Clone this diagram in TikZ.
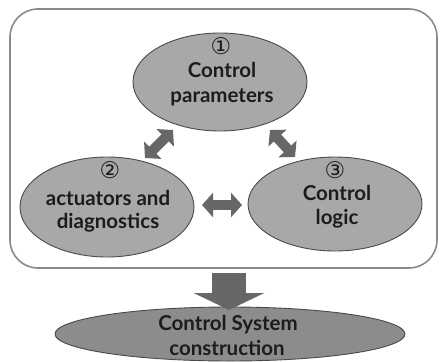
\documentclass[tikz,border=0pt]{standalone}
\usepackage{fontspec}
\setmainfont{Lato}
\newfontfamily\symfont{DejaVu Sans}
\usetikzlibrary{arrows.meta,shapes.geometric}
\definecolor{ellfill}{HTML}{A8A8A8}
\definecolor{ellfilldark}{HTML}{8C8C8C}
\definecolor{ellline}{HTML}{4A4A4A}
\definecolor{arrowgray}{HTML}{676767}
\definecolor{framegray}{HTML}{8A8A8A}
\definecolor{txt}{HTML}{1C1C1C}
\begin{document}
\begin{tikzpicture}[x=1pt,y=-1pt,
  blob/.style={ellipse,draw=ellline,line width=0.9pt,fill=ellfill,inner sep=0pt},
  lbl/.style={font=\bfseries\fontsize{20.5}{24}\selectfont,text=txt,anchor=base,inner sep=0pt},
  num/.style={font=\symfont\fontsize{23}{23}\selectfont,text=txt,inner sep=0pt},
  dbl/.style={draw=arrowgray,line width=10pt,{Triangle[width=24pt,length=11pt]}-{Triangle[width=24pt,length=11pt]}},
  bigarrow/.style={draw=arrowgray,line width=34pt,-{Triangle[width=70pt,length=17pt]}}]
\useasboundingbox (0,0) rectangle (443,361);
\fill[white] (0,0) rectangle (443,361);
\draw[framegray,line width=1.6pt,rounded corners=28pt] (10,9) rectangle (437,268);
% ellipses
\node[blob,minimum width=174pt,minimum height=98pt] (top) at (220,82) {};
\node[blob,minimum width=174pt,minimum height=100pt] (left) at (107,207) {};
\node[blob,minimum width=174pt,minimum height=94pt] (right) at (335,204) {};
\node[blob,fill=ellfilldark,minimum width=350pt,minimum height=54pt] (bottom) at (230,334) {};
% labels
\node[num] (n1) at (221,46) {①};
\node[lbl] (t1a) at (222,77) {Control};
\node[lbl] (t1b) at (222,102) {parameters};
\node[num] (n2) at (110,170) {②};
\node[lbl] (t2a) at (108,205) {actuators and};
\node[lbl] (t2b) at (108,228) {diagnostics};
\node[num] (n3) at (335,170) {③};
\node[lbl] (t3a) at (337,200) {Control};
\node[lbl] (t3b) at (337,224) {logic};
\node[lbl] (t4a) at (228,330) {Control System};
\node[lbl] (t4b) at (227,355) {construction};
% arrows
\coordinate (a1s) at (145,158); \coordinate (a1e) at (173,130);
\coordinate (a2s) at (270,130); \coordinate (a2e) at (295,157);
\coordinate (a3s) at (202,205); \coordinate (a3e) at (242,205);
\coordinate (dS) at (229,273); \coordinate (dE) at (229,310);
\draw[dbl] (a1s) -- (a1e);
\draw[dbl] (a2s) -- (a2e);
\draw[dbl] (a3s) -- (a3e);
\draw[bigarrow] (dS) -- (dE);
\end{tikzpicture}
\end{document}
